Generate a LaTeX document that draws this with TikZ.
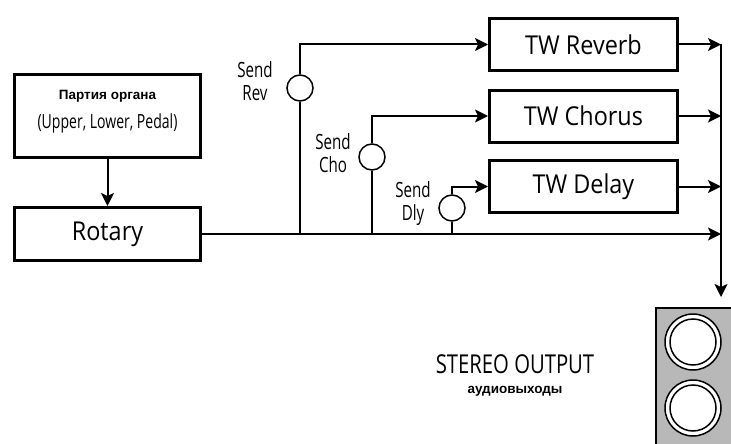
\documentclass[tikz,border=0pt]{standalone}
\usepackage{fontspec}
\setmainfont{Open Sans}
\newfontfamily\boxfont[FakeStretch=0.9]{Open Sans}
\newfontfamily\condfont[FakeStretch=0.72]{Open Sans}
\newfontfamily\outfont[FakeStretch=0.78]{Open Sans}
\newfontfamily\smallfont{Liberation Sans}
\usetikzlibrary{arrows.meta}
\tikzset{
  fxbox/.style={draw,line width=3pt,minimum width=188pt,minimum height=52pt,inner sep=0pt,
    font=\boxfont\fontsize{26}{28}\selectfont},
  sendknob/.style={draw,circle,line width=1.5pt,minimum size=26pt,inner sep=0pt,fill=white},
  sendlabel/.style={align=center,inner sep=0pt,font=\condfont\fontsize{21}{23}\selectfont},
  wire/.style={line width=2pt},
  sig/.style={line width=2pt,-{Stealth[length=13pt,width=13pt,inset=3pt]}},
  jack/.style={draw,line width=1.5pt}
}
\begin{document}
\begin{tikzpicture}[x=1pt,y=-1pt]
  \useasboundingbox (0,0) rectangle (731,444);
  \node[fxbox,minimum width=186pt,minimum height=83pt] (organ) at (107.5,116) {};
  \node[font=\smallfont\bfseries\fontsize{13.5}{15}\selectfont] (organtitle) at (107.5,96) {Партия органа};
  \node[font=\condfont\fontsize{19.5}{22}\selectfont] (organparts) at (107.5,123) {(Upper, Lower, Pedal)};
  \node[fxbox,minimum width=186pt,minimum height=53pt] (rotary) at (107.5,234) {Rotary};
  \node[fxbox] (reverb) at (583.5,44.5) {TW Reverb};
  \node[fxbox] (chorus) at (583.5,116) {TW Chorus};
  \node[fxbox] (delay) at (583.5,186.5) {TW Delay};
  \node[sendknob] (sendrev) at (300,88) {};
  \node[sendknob] (sendcho) at (372,157) {};
  \node[sendknob] (senddly) at (452,208) {};
  \node[sendlabel] (revlabel) at (255,81) {Send\\Rev};
  \node[sendlabel] (cholabel) at (333,153) {Send\\Cho};
  \node[sendlabel] (dlylabel) at (413,204) {Send\\Dly};
  \coordinate (revtap) at (300,234);
  \coordinate (chotap) at (372,234);
  \coordinate (dlytap) at (452,234);
  \coordinate (bustop) at (721,44.5);
  \coordinate (busend) at (721,297);
  \draw[sig] (organ) -- (rotary);
  \draw[sig] (rotary.east) -- (rotary.east -| bustop);
  \draw[wire] (revtap) -- (sendrev);
  \draw[wire] (chotap) -- (sendcho);
  \draw[wire] (dlytap) -- (senddly);
  \draw[sig] (sendrev) |- (reverb);
  \draw[sig] (sendcho) |- (chorus);
  \draw[sig] (senddly) |- (delay);
  \foreach \fx in {reverb,chorus,delay}
    \draw[sig] (\fx.east) -- (\fx.east -| bustop);
  \draw[sig] (bustop) -- (busend);
  \filldraw[fill=black!28,line width=2pt] (656,308) rectangle (740,450);
  \foreach \y in {342,408} {
    \draw[jack,fill=white] (693,\y) circle (28);
    \draw[jack] (693,\y) circle (23);
  }
  \node[font=\outfont\fontsize{26}{28}\selectfont] (outlabel) at (515,364) {STEREO OUTPUT};
  \node[font=\smallfont\bfseries\fontsize{13.5}{15}\selectfont] (outsub) at (515,391) {аудиовыходы};
\end{tikzpicture}
\end{document}
